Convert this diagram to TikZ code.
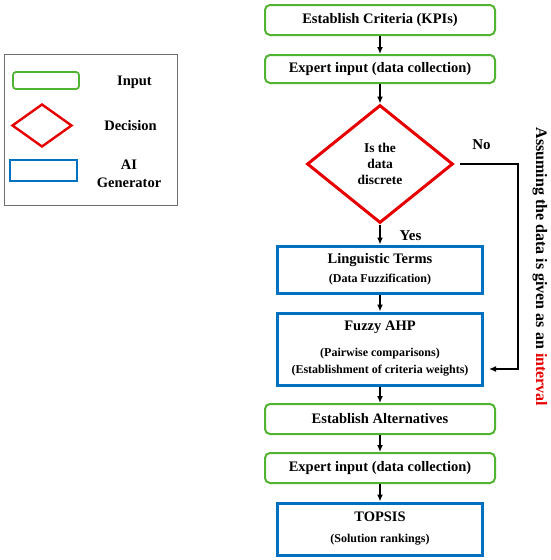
\documentclass[tikz,border=0pt]{standalone}
\usepackage{fontspec}
\setmainfont{Liberation Serif}
\usetikzlibrary{shapes.geometric,arrows.meta,calc}
\definecolor{ingreen}{RGB}{80,180,50}
\definecolor{aiblue}{RGB}{0,112,192}
\definecolor{decred}{RGB}{230,0,0}
\definecolor{legframe}{RGB}{110,110,110}
\newcommand{\mainf}{\fontsize{14.5}{17}\selectfont\bfseries}
\newcommand{\subf}{\fontsize{12}{17}\selectfont\bfseries}
\begin{document}
\begin{tikzpicture}[x=1pt,y=-1pt,
  inbox/.style={draw=ingreen,line width=2pt,rounded corners=5pt,minimum width=230pt,minimum height=30pt,inner sep=0pt,font=\mainf,align=center},
  aibox/.style={draw=aiblue,line width=3pt,minimum width=205pt,inner sep=0pt,font=\mainf,align=center},
  decbox/.style={diamond,draw=decred,line width=3pt,minimum width=146pt,minimum height=118pt,aspect=1.24,inner sep=0pt,font=\fontsize{13.5}{16}\selectfont\bfseries,align=center},
  flow/.style={-{Latex[length=7pt,width=6pt]},line width=1.3pt,black},
  lbl/.style={font=\fontsize{15}{17}\selectfont\bfseries,inner sep=0pt,align=center}]
\useasboundingbox (0,0) rectangle (550,560);
% legend
\node[draw=legframe,line width=0.8pt,minimum width=173pt,minimum height=151pt,inner sep=0pt] (legend) at (90.5,129.5) {};
\node[draw=ingreen,line width=1.8pt,rounded corners=3pt,minimum width=66pt,minimum height=17pt,inner sep=0pt] (lgin) at (46,80.5) {};
\node[diamond,draw=decred,line width=2.4pt,minimum width=60pt,minimum height=43pt,aspect=1.4,inner sep=0pt] (lgdec) at (42,125.5) {};
\node[draw=aiblue,line width=2.8pt,minimum width=67pt,minimum height=21pt,inner sep=0pt] (lgai) at (43.5,170.5) {};
\node[lbl,font=\fontsize{14.5}{18}\selectfont\bfseries] (lgint) at (134.5,82) {Input};
\node[lbl,font=\fontsize{14.5}{18}\selectfont\bfseries] (lgdect) at (130.5,126) {Decision};
\node[lbl,font=\fontsize{14.5}{18}\selectfont\bfseries] (lgait) at (129,174) {AI\\Generator};
% flow
\node[inbox] (b1) at (380,20) {Establish Criteria (KPIs)};
\node[inbox,minimum height=28pt] (b2) at (380,69) {Expert input (data collection)};
\node[decbox] (dec) at (380,164) {Is the\\data\\discrete};
\node[aibox,minimum height=47pt] (b3) at (380,269.5) {Linguistic Terms\\[2pt]\subf (Data Fuzzification)};
\node[aibox,minimum height=72pt] (b4) at (380,349) {Fuzzy AHP\\[9pt]\subf (Pairwise comparisons)\\\subf (Establishment of criteria weights)};
\node[inbox] (b5) at (380,419) {Establish Alternatives};
\node[inbox] (b6) at (380,468) {Expert input (data collection)};
\node[aibox,minimum height=52pt] (b7) at (380,529) {TOPSIS\\[4pt]\subf (Solution rankings)};
\draw[flow] (b1) -- (b2);
\draw[flow] (b2) -- (dec);
\draw[flow] (dec) -- (b3);
\draw[flow] (b3) -- (b4);
\draw[flow] (b4) -- (b5);
\draw[flow] (b5) -- (b6);
\draw[flow] (b6) -- (b7);
\coordinate (turn) at (518,164);
\coordinate (inb4) at ($(b4.east)+(5,20)$);
\draw[flow] ([xshift=5pt]dec.east) -- (turn) |- (inb4);
\node[lbl] (no) at (481.5,145) {No};
\node[lbl] (yes) at (410.5,236) {Yes};
\node[lbl,font=\fontsize{16}{18}\selectfont\bfseries,rotate=-90] (side) at (540,267) {Assuming the data is given as an \textcolor{decred}{interval}};
\end{tikzpicture}
\end{document}
